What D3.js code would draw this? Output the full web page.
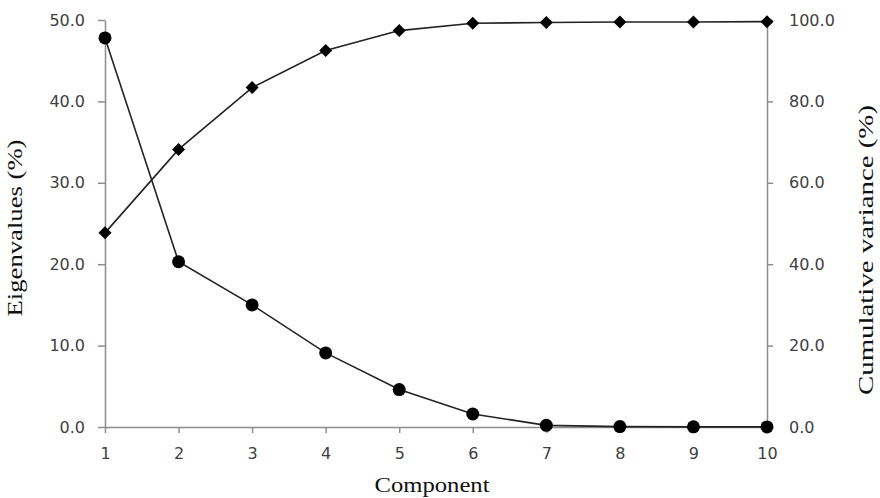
<!DOCTYPE html>
<html>
<head>
<meta charset="utf-8">
<script src="https://cdn.jsdelivr.net/npm/d3@7"></script>
<style>
  body { margin: 0; background: #fff; }
  .tick text { font-family: "DejaVu Sans", sans-serif; font-size: 16px; fill: #404040; }
  .axis-title { font-family: "Liberation Serif", "Times New Roman", serif; font-size: 22px; fill: #111; }
</style>
</head>
<body>
<svg id="chart" width="880" height="498"></svg>
<script>
// values
const components = [1, 2, 3, 4, 5, 6, 7, 8, 9, 10]
const eigenvalues = [47.8, 20.3, 15.0, 9.1, 4.6, 1.6, 0.2, 0.05, 0.02, 0.01]
const cumulative = [47.7, 68.2, 83.4, 92.5, 97.4, 99.2, 99.4, 99.5, 99.5, 99.6]
const leftTicks = [0, 10, 20, 30, 40, 50]
const rightTicks = [0, 20, 40, 60, 80, 100]

let svg = d3.select("#chart")
let margin = {top: 20, right: 113, bottom: 71, left: 105}
let width = svg.attr("width") - margin.left - margin.right
let height = svg.attr("height") - margin.top - margin.bottom
let g = svg.append("g").attr("transform", "translate(" + margin.left + "," + margin.top + ")")

let x = d3.scaleLinear().domain([1, 10]).range([0, width])
let yLeft = d3.scaleLinear().domain([0, 50]).range([height, 0])
let yRight = d3.scaleLinear().domain([0, 100]).range([height, 0])

const axisGray = "#8c8c8c"

// axes
let styleAxis = (sel) => {
  sel.select(".domain").attr("stroke", axisGray).attr("stroke-width", 1.5)
  sel.selectAll(".tick line").attr("stroke", axisGray).attr("stroke-width", 1.5)
}

g.append("g")
    .attr("transform", "translate(0," + height + ")")
    .call(d3.axisBottom(x).tickValues(components).tickSize(6).tickSizeOuter(0).tickPadding(15).tickFormat(d3.format("d")))
    .call(styleAxis)

g.append("g")
    .call(d3.axisLeft(yLeft).tickValues(leftTicks).tickSize(7).tickSizeOuter(0).tickPadding(13).tickFormat(d3.format(".1f")))
    .call(styleAxis)

g.append("g")
    .attr("transform", "translate(" + width + ",0)")
    .call(d3.axisRight(yRight).tickValues(rightTicks).tickSize(6).tickSizeOuter(0).tickPadding(16).tickFormat(d3.format(".1f")))
    .call(styleAxis)

// axis titles
svg.append("text")
    .attr("class", "axis-title")
    .attr("text-anchor", "middle")
    .attr("transform", "translate(22,228) rotate(-90)")
    .attr("textLength", 177)
    .attr("lengthAdjust", "spacingAndGlyphs")
    .text("Eigenvalues (%)")

svg.append("text")
    .attr("class", "axis-title")
    .attr("text-anchor", "middle")
    .attr("transform", "translate(873,250) rotate(-90)")
    .attr("textLength", 290)
    .attr("lengthAdjust", "spacingAndGlyphs")
    .text("Cumulative variance (%)")

svg.append("text")
    .attr("class", "axis-title")
    .attr("text-anchor", "middle")
    .attr("x", 432)
    .attr("y", 492)
    .attr("textLength", 115)
    .attr("lengthAdjust", "spacingAndGlyphs")
    .text("Component")

// series
let eigenData = components.map((c, i) => ({c: c, v: eigenvalues[i]}))
let cumData = components.map((c, i) => ({c: c, v: cumulative[i]}))

let eigenLine = d3.line().x(d => x(d.c)).y(d => yLeft(d.v))
let cumLine = d3.line().x(d => x(d.c)).y(d => yRight(d.v))

g.append("path")
    .datum(cumData)
    .attr("d", cumLine)
    .attr("fill", "none")
    .attr("stroke", "#222")
    .attr("stroke-width", 1.6)

g.append("path")
    .datum(eigenData)
    .attr("d", eigenLine)
    .attr("fill", "none")
    .attr("stroke", "#222")
    .attr("stroke-width", 1.6)

g.selectAll(".diamond")
  .data(cumData)
  .enter().append("path")
    .attr("class", "diamond")
    .attr("transform", d => "translate(" + x(d.c) + "," + yRight(d.v) + ")")
    .attr("d", "M0,-6.5L6.5,0L0,6.5L-6.5,0Z")
    .attr("fill", "#000")

g.selectAll(".dot")
  .data(eigenData)
  .enter().append("circle")
    .attr("class", "dot")
    .attr("cx", d => x(d.c))
    .attr("cy", d => yLeft(d.v))
    .attr("r", 6.5)
    .attr("fill", "#000")
</script>
</body>
</html>
